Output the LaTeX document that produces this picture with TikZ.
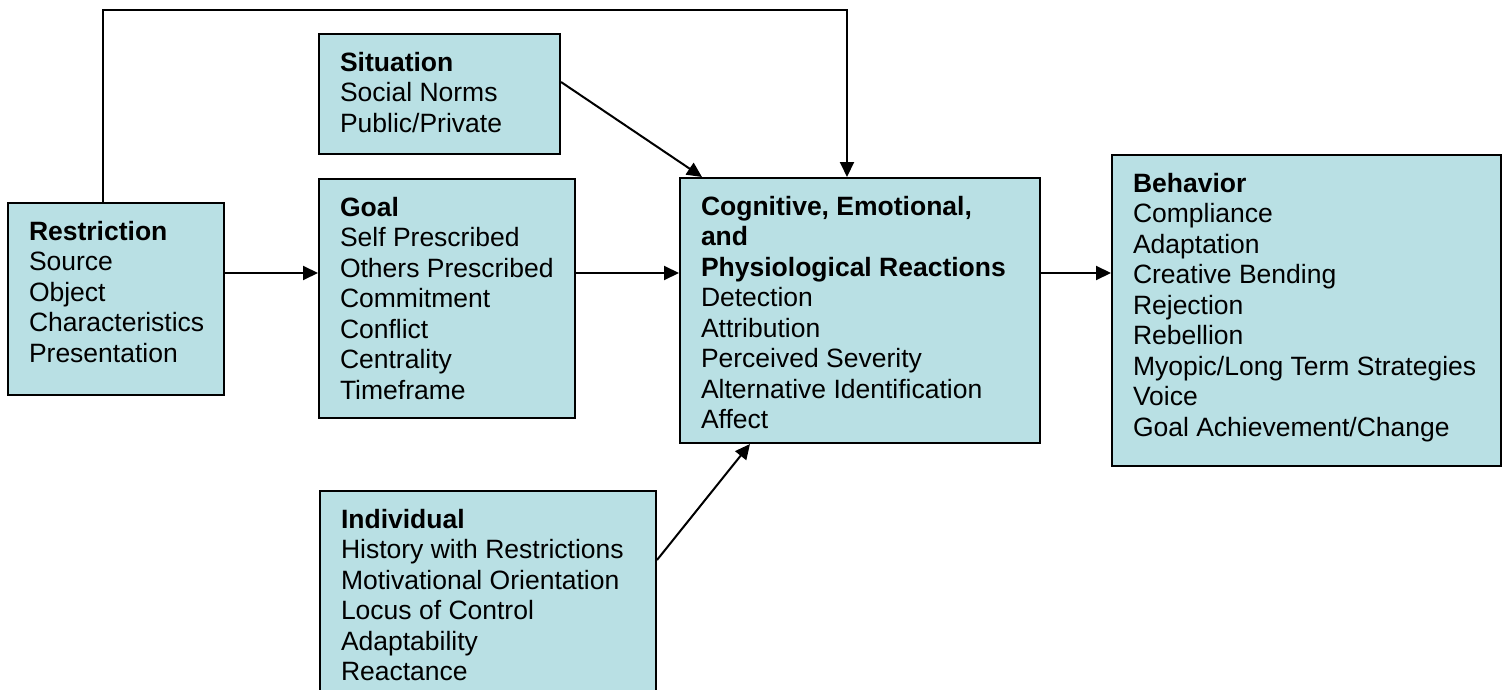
\documentclass[tikz,border=0pt]{standalone}
\usepackage{fontspec}
\setmainfont{Liberation Sans}
\usetikzlibrary{arrows.meta}
\definecolor{bx}{RGB}{185,224,228}
\newcommand{\boxtxt}[3]{\parbox[t][#2][t]{#1}{\raggedright\leftskip=21pt\vspace*{16pt}\strut#3}}

\begin{document}
\begin{tikzpicture}[x=1pt,y=-1pt,
  box/.style={draw,fill=bx,line width=2pt,anchor=north west,inner sep=0pt,font=\fontsize{26.5}{30.5}\selectfont},
  arr/.style={line width=2pt,-{Triangle[length=15pt,width=14pt]}}]
\useasboundingbox (0,0) rectangle (1507,690);
\node[box] (restr) at (7,202) {\boxtxt{216pt}{192pt}{\textbf{Restriction}\\Source\\Object\\Characteristics\\Presentation}};
\node[box] (sit) at (318,33) {\boxtxt{241pt}{120pt}{\textbf{Situation}\\Social Norms\\Public/Private}};
\node[box] (goal) at (318,178) {\boxtxt{256pt}{239pt}{\textbf{Goal}\\Self Prescribed\\Others Prescribed\\Commitment\\Conflict\\Centrality\\Timeframe}};
\node[box] (cog) at (679,177) {\boxtxt{360pt}{265pt}{{\bfseries Cognitive, Emotional,\\and\\Physiological Reactions}\\Detection\\Attribution\\Perceived Severity\\Alternative Identification\\Affect}};
\node[box] (beh) at (1111,154) {\boxtxt{389pt}{311pt}{\textbf{Behavior}\\Compliance\\Adaptation\\Creative Bending\\Rejection\\Rebellion\\Myopic/Long Term Strategies\\Voice\\Goal Achievement/Change}};
\node[box] (ind) at (319,490) {\boxtxt{336pt}{220pt}{\textbf{Individual}\\History with Restrictions\\Motivational Orientation\\Locus of Control\\Adaptability\\Reactance}};
\coordinate (row) at (0,273);
\coordinate (loop) at (847,10);
\draw[arr] (restr.east |- row) -- (goal.west |- row);
\draw[arr] (goal.east |- row) -- (cog.west |- row);
\draw[arr] (cog.east |- row) -- (beh.west |- row);
\draw[arr] ([yshift=-49pt]sit.north east) -- ([xshift=23pt]cog.north west);
\draw[arr] ([xshift=96pt]restr.north west) |- (loop) -- (cog.north -| loop);
\draw[arr] ([yshift=-70pt]ind.north east) -- ([xshift=71pt]cog.south west);
\end{tikzpicture}
\end{document}
